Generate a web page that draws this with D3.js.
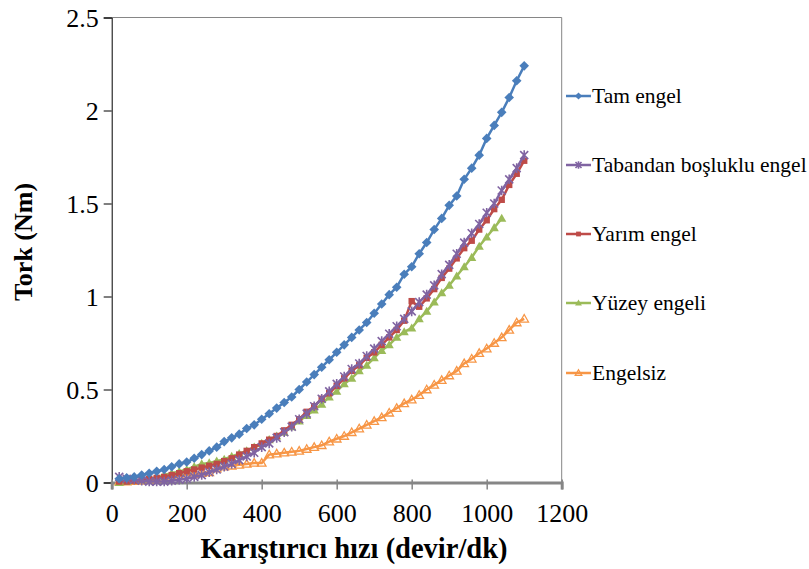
<!DOCTYPE html>
<html>
<head>
<meta charset="utf-8">
<script src="https://cdn.jsdelivr.net/npm/d3@7"></script>
<style>
    body { margin: 0; background: #fff; }
</style>
</head>
<body>
<svg id="chart" width="809" height="569"></svg>
<script>
// rpm values (x axis) - every 20 devir/dk
const rpm = [20,40,60,80,100,120,140,160,180,200,220,240,260,280,300,320,340,360,380,400,
    420,440,460,480,500,520,540,560,580,600,620,640,660,680,700,720,740,760,780,800,
    820,840,860,880,900,920,940,960,980,1000,1020,1040,1060,1080,1100];

// torque series (Nm)
const tamEngel = [0.02,0.025,0.03,0.04,0.05,0.06,0.07,0.085,0.10,0.11,0.13,0.15,0.17,0.19,0.22,0.24,0.26,0.29,0.31,0.34,
    0.37,0.40,0.43,0.46,0.50,0.54,0.58,0.62,0.66,0.70,0.74,0.78,0.82,0.86,0.91,0.96,1.01,1.05,1.12,1.16,
    1.23,1.29,1.36,1.42,1.49,1.54,1.63,1.69,1.76,1.85,1.92,1.99,2.07,2.16,2.24];
const tabandan = [0.03,0.02,0.015,0.01,0.005,0.005,0.005,0.01,0.015,0.02,0.03,0.04,0.055,0.07,0.085,0.10,0.12,0.14,0.16,0.19,
    0.21,0.24,0.27,0.30,0.34,0.37,0.41,0.45,0.49,0.53,0.57,0.61,0.64,0.68,0.72,0.76,0.80,0.84,0.88,0.92,
    0.97,1.01,1.06,1.12,1.17,1.23,1.29,1.34,1.39,1.45,1.50,1.57,1.63,1.69,1.76];
const yarimEngel = [0.005,0.005,0.01,0.015,0.02,0.025,0.03,0.04,0.05,0.06,0.07,0.08,0.09,0.10,0.115,0.13,0.15,0.17,0.19,0.21,
    0.23,0.25,0.28,0.31,0.34,0.38,0.41,0.45,0.48,0.52,0.56,0.60,0.63,0.67,0.70,0.74,0.78,0.82,0.87,0.975,
    0.945,0.99,1.04,1.10,1.15,1.205,1.26,1.30,1.36,1.41,1.47,1.52,1.60,1.66,1.73];
const yuzeyEngeli = [0.0,0.005,0.01,0.015,0.02,0.03,0.04,0.05,0.06,0.07,0.085,0.10,0.105,0.115,0.125,0.14,0.155,0.17,0.19,0.21,
    0.23,0.25,0.27,0.30,0.33,0.36,0.39,0.42,0.46,0.49,0.53,0.56,0.60,0.63,0.67,0.71,0.74,0.78,0.81,0.83,
    0.88,0.92,0.97,1.02,1.06,1.11,1.16,1.21,1.27,1.32,1.37,1.42];
const engelsiz = [0.005,0.005,0.008,0.01,0.015,0.02,0.025,0.03,0.035,0.04,0.045,0.05,0.055,0.075,0.085,0.09,0.095,0.10,0.105,0.105,
    0.15,0.155,0.16,0.165,0.17,0.18,0.19,0.20,0.22,0.235,0.25,0.27,0.29,0.31,0.33,0.35,0.375,0.40,0.425,0.445,
    0.47,0.50,0.525,0.55,0.575,0.60,0.64,0.665,0.695,0.72,0.75,0.78,0.82,0.86,0.88];

const seriesNames = ["Tam engel", "Tabandan boşluklu engel", "Yarım engel", "Yüzey engeli", "Engelsiz"];
const xTicks = [0,200,400,600,800,1000,1200];
const yTicks = [0,0.5,1,1.5,2,2.5];

const FONT = "'Liberation Serif', 'Times New Roman', serif";

//marker look for each series
const styles = [
    {color: "#4A7EBB", marker: "diamond"},
    {color: "#8064A2", marker: "star"},
    {color: "#BE4B48", marker: "square"},
    {color: "#9BBB59", marker: "triangle"},
    {color: "#F79646", marker: "openTriangle"}
];
const allValues = [tamEngel, tabandan, yarimEngel, yuzeyEngeli, engelsiz];

const svg = d3.select("#chart");

const x = d3.scaleLinear().domain([0, 1200]).range([111.7, 561.7]);
const y = d3.scaleLinear().domain([0, 2.5]).range([482.5, 17.5]);

// frame: top + right gray lines
svg.append("line").attr("x1", x(0)).attr("x2", x(1200)).attr("y1", y(2.5)).attr("y2", y(2.5))
    .attr("stroke", "#868686").attr("stroke-width", 1);
svg.append("line").attr("x1", x(1200)).attr("x2", x(1200)).attr("y1", y(2.5)).attr("y2", y(0))
    .attr("stroke", "#868686").attr("stroke-width", 1);

// y axis (black, outside ticks)
const yAxis = svg.append("g").attr("transform", `translate(${x(0)},0)`)
    .call(d3.axisLeft(y).tickValues(yTicks).tickSize(8).tickPadding(5).tickFormat(d3.format("")));
yAxis.attr("font-family", null).attr("font-size", null);
yAxis.select(".domain").attr("stroke", "#000");
yAxis.selectAll(".tick line").attr("stroke", "#000");
yAxis.selectAll("text").style("font-family", FONT).style("font-size", "26px").attr("dy", "0.33em");

// x axis (thick gray, cross ticks)
const xAxis = svg.append("g").attr("transform", `translate(0,${y(0)})`)
    .call(d3.axisBottom(x).tickValues(xTicks).tickSize(7).tickPadding(14).tickFormat(d3.format("")));
xAxis.attr("font-family", null).attr("font-size", null);
xAxis.select(".domain").attr("stroke", "#868686").attr("stroke-width", 3);
xAxis.selectAll(".tick line").attr("stroke", "#868686").attr("stroke-width", 1.5).attr("y1", -3);
xAxis.selectAll("text").style("font-family", FONT).style("font-size", "26px");

// axis titles
svg.append("text").attr("x", 354).attr("y", 558).attr("text-anchor", "middle")
    .style("font-family", FONT).style("font-size", "28.5px").style("font-weight", "bold")
    .text("Karıştırıcı hızı (devir/dk)");
svg.append("text").attr("transform", "translate(32,242) rotate(-90)").attr("text-anchor", "middle")
    .style("font-family", FONT).style("font-size", "26px").style("font-weight", "bold")
    .text("Tork (Nm)");

function drawMarker(g, kind, color, s){
    if(kind === "diamond"){
        let r = 4.8*s;
        g.append("path").attr("d", `M0,${-r}L${r},0L0,${r}L${-r},0Z`).attr("fill", color);
    } else if(kind === "square"){
        let r = 3.2*s;
        g.append("rect").attr("x", -r).attr("y", -r).attr("width", 2*r).attr("height", 2*r).attr("fill", color);
    } else if(kind === "triangle"){
        let r = 4.6*s;
        g.append("path").attr("d", `M0,${-r}L${r},${r*0.75}L${-r},${r*0.75}Z`).attr("fill", color);
    } else if(kind === "openTriangle"){
        let r = 4.3*s;
        g.append("path").attr("d", `M0,${-r}L${r},${r*0.75}L${-r},${r*0.75}Z`)
            .attr("fill", "none").attr("stroke", color).attr("stroke-width", 1.3);
    } else {
        let r = 4*s;
        g.append("path").attr("d", `M${-r},${-r}L${r},${r}M${-r},${r}L${r},${-r}M0,${-r - 0.8}L0,${r + 0.8}`)
            .attr("stroke", color).attr("stroke-width", 1.6);
    }
}

const line = d3.line().x(d => x(d[0])).y(d => y(d[1]));

// series, drawn bottom first so blue is on top
for(let i = allValues.length - 1; i >= 0; i--){
    let pts = allValues[i].map((v, j) => [rpm[j], v]);
    let st = styles[i];
    svg.append("path").datum(pts).attr("d", line)
        .attr("fill", "none").attr("stroke", st.color).attr("stroke-width", 2.5);
    svg.append("g").selectAll("g").data(pts).enter().append("g")
        .attr("transform", d => `translate(${x(d[0])},${y(d[1])})`)
        .each(function(){ drawMarker(d3.select(this), st.marker, st.color, 1); });
}

// legend
const legendY = [96, 165, 234, 303, 373];
const legend = svg.append("g");
seriesNames.forEach((name, i) => {
    let g = legend.append("g").attr("transform", `translate(566,${legendY[i]})`);
    g.append("line").attr("x1", 0).attr("x2", 25).attr("stroke", styles[i].color).attr("stroke-width", 2.5);
    let m = g.append("g").attr("transform", "translate(12.5,0)");
    drawMarker(m, styles[i].marker, styles[i].color, 0.75);
    g.append("text").attr("x", 26).attr("y", 7)
        .style("font-family", FONT).style("font-size", "21.5px").text(name);
});
</script>
</body>
</html>
